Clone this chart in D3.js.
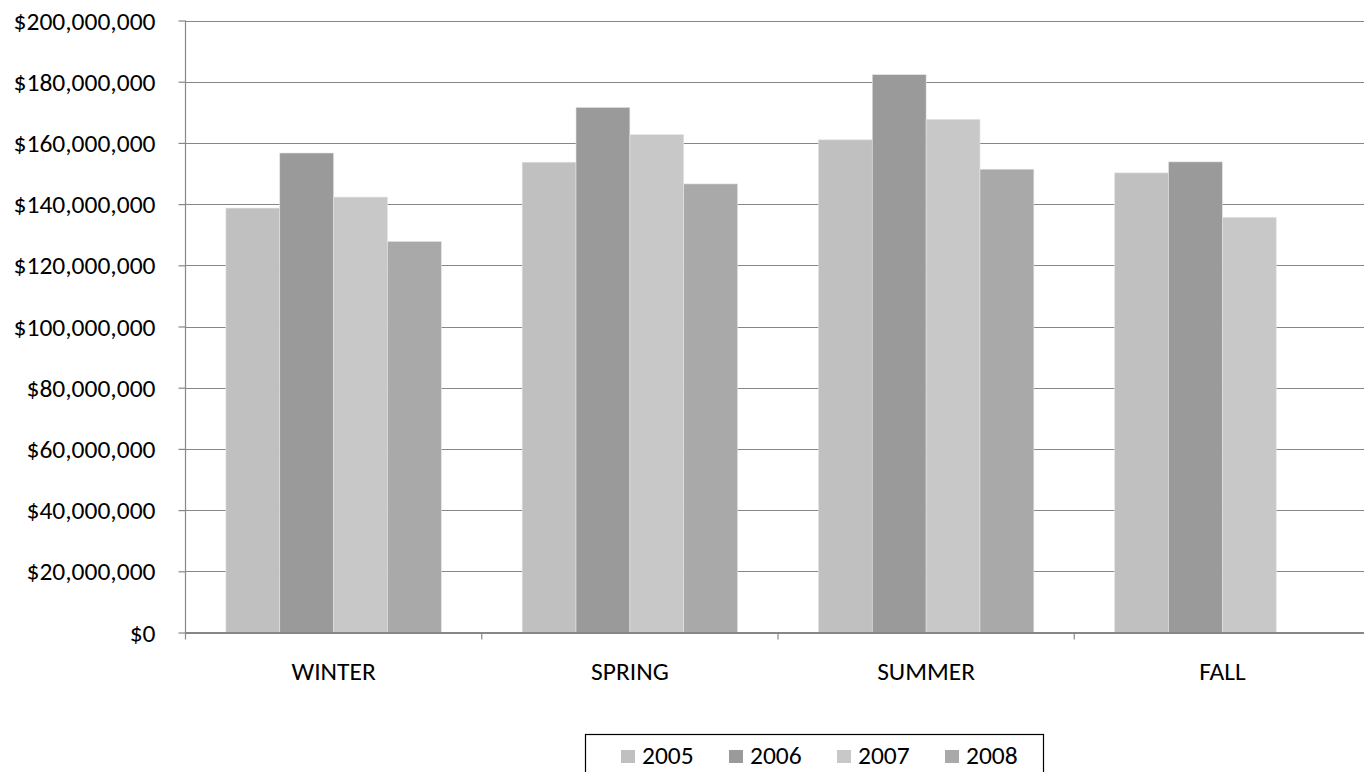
<!DOCTYPE html>
<html>
<head>
<meta charset="utf-8">
<script src="https://cdn.jsdelivr.net/npm/d3@7"></script>
<style>
  html, body { margin: 0; padding: 0; background: #fff; }
  svg { display: block; font-family: Carlito, Calibri, "Open Sans", "Liberation Sans", sans-serif; }
</style>
</head>
<body>
<svg id="chart" width="1364" height="772"></svg>
<script>
// Seasonal revenue by year
const seasons = ["WINTER", "SPRING", "SUMMER", "FALL"];
const years = ["2005", "2006", "2007", "2008"];
const revenue2005 = [138.7e6, 153.7e6, 161.0e6, 150.2e6];
const revenue2006 = [156.7e6, 171.6e6, 182.3e6, 153.8e6];
const revenue2007 = [142.3e6, 162.7e6, 167.7e6, 135.7e6];
const revenue2008 = [127.8e6, 146.6e6, 151.4e6, null];
const yTicks = [0, 20e6, 40e6, 60e6, 80e6, 100e6, 120e6, 140e6, 160e6, 180e6, 200e6];
const yearColors = ["#c0c0c0", "#9a9a9a", "#c8c8c8", "#a9a9a9"];

const series = [revenue2005, revenue2006, revenue2007, revenue2008];
const fontStack = "Carlito, Calibri, 'Open Sans', 'Liberation Sans', sans-serif";
const fontSize = "25.5px";

const svg = d3.select("#chart");

const plotLeft = 185.5, plotRight = 1370.5, plotTop = 20.5, plotBottom = 632.5;

const x = d3.scaleBand().domain(seasons).range([plotLeft, plotRight]).paddingInner(0).paddingOuter(0);
const xYear = d3.scaleBand().domain(years).range([0, x.bandwidth()]).paddingInner(0).paddingOuter(0.75);
const y = d3.scaleLinear().domain([0, 200e6]).range([plotBottom, plotTop]);
const color = d3.scaleOrdinal().domain(years).range(yearColors);

const fmt = v => "$" + d3.format(",")(v);

// Horizontal gridlines
svg.append("g")
  .selectAll("line")
  .data(yTicks)
  .join("line")
  .attr("x1", plotLeft).attr("x2", plotRight)
  .attr("y1", d => Math.round(y(d)) + 0.5).attr("y2", d => Math.round(y(d)) + 0.5)
  .attr("stroke", "#878787").attr("stroke-width", 1.2);

// Bars
const rows = [];
seasons.forEach((s, i) => {
  years.forEach((yr, j) => {
    const v = series[j][i];
    if (v != null) rows.push({ season: s, year: yr, value: v });
  });
});

svg.append("g")
  .selectAll("rect")
  .data(rows)
  .join("rect")
  .attr("x", d => x(d.season) + xYear(d.year))
  .attr("width", xYear.bandwidth())
  .attr("y", d => y(d.value))
  .attr("height", d => y(0) - y(d.value))
  .attr("fill", d => color(d.year))
  .attr("stroke", "#e4e4e4").attr("stroke-width", 0.6);

// Y axis
const yAxis = d3.axisLeft(y).tickValues(yTicks).tickFormat(fmt).tickSize(7).tickPadding(23);
const gy = svg.append("g").attr("transform", `translate(${plotLeft},0)`).call(yAxis);
gy.attr("font-family", null).attr("font-size", null);
gy.select(".domain").attr("stroke", "#878787").attr("stroke-width", 1.2).attr("d", `M0,${plotTop}V${plotBottom}`);
gy.selectAll(".tick line").attr("stroke", "#878787").attr("stroke-width", 1.2);
gy.selectAll(".tick text").attr("fill", "#000").attr("dy", "0.34em")
  .style("font-size", fontSize)
  .style("font-family", fontStack);

// X axis (category boundaries as ticks)
svg.append("line")
  .attr("x1", plotLeft).attr("x2", plotRight)
  .attr("y1", plotBottom).attr("y2", plotBottom)
  .attr("stroke", "#878787").attr("stroke-width", 1.2);

const boundaries = seasons.map(s => x(s)).concat([x(seasons[seasons.length - 1]) + x.bandwidth()]);
svg.append("g")
  .selectAll("line")
  .data(boundaries)
  .join("line")
  .attr("x1", d => d).attr("x2", d => d)
  .attr("y1", plotBottom).attr("y2", plotBottom + 7)
  .attr("stroke", "#878787").attr("stroke-width", 1.2);

svg.append("g")
  .selectAll("text")
  .data(seasons)
  .join("text")
  .attr("x", d => x(d) + x.bandwidth() / 2)
  .attr("y", 680)
  .attr("text-anchor", "middle")
  .style("font-size", fontSize)
  .style("font-family", fontStack)
  .attr("fill", "#000")
  .text(d => d);

// Legend
const legend = svg.append("g");
legend.append("rect")
  .attr("x", 585.5).attr("y", 734.5).attr("width", 458).attr("height", 60)
  .attr("fill", "#fff").attr("stroke", "#000").attr("stroke-width", 1.2);

const legendX = d3.scalePoint().domain(years).range([621, 945]);
const item = legend.selectAll("g.item")
  .data(years)
  .join("g")
  .attr("class", "item")
  .attr("transform", d => `translate(${legendX(d)},0)`);
item.append("rect")
  .attr("x", 0).attr("y", 750).attr("width", 14).attr("height", 13)
  .attr("fill", d => color(d));
item.append("text")
  .attr("x", 21).attr("y", 764)
  .style("font-size", fontSize)
  .style("font-family", fontStack)
  .attr("fill", "#000")
  .text(d => d);
</script>
</body>
</html>
